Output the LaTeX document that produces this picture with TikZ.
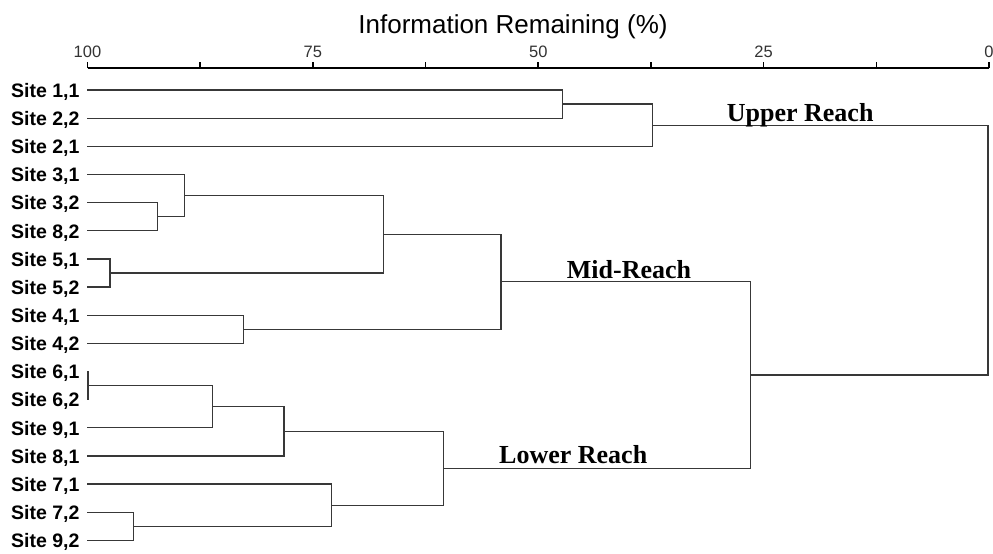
\documentclass[tikz,border=0pt]{standalone}
\usepackage{fontspec}
\setmainfont{Liberation Serif}
\newfontfamily\arial{Liberation Sans}
\begin{document}
\begin{tikzpicture}[x=1pt,y=-1pt,
  tree/.style={draw=black!78,line width=1.3pt,line join=miter,line cap=rect},
  axisline/.style={draw=black,line width=2pt},
  sitelabel/.style={anchor=base west,inner sep=0pt,font=\arial\bfseries\fontsize{19.5}{20}\selectfont},
  ticklabel/.style={anchor=base,inner sep=0pt,text=black!80,font=\arial\fontsize{16.5}{17}\selectfont},
  reachlabel/.style={anchor=base west,inner sep=0pt,font=\bfseries\fontsize{26}{26}\selectfont},
  titlelabel/.style={anchor=base,inner sep=0pt,font=\arial\fontsize{26}{26}\selectfont}]
\useasboundingbox (0,0) rectangle (993,554);

% axis
\node[titlelabel] (title) at (513,33) {Information Remaining (\%)};
\coordinate (ax0) at (87.5,68.3);
\coordinate (ax1) at (989,68.3);
\draw[axisline] (ax0) -- (ax1);
\foreach \i in {0,...,8}{
  \draw[line width=1.6pt] ({87.5+\i*112.69},68.3) -- ++(0,-6.5);
}
\foreach \v/\i in {100/0,75/2,50/4,25/6,0/8}{
  \node[ticklabel] (t\i) at ({87.5+\i*112.69},57) {\v};
}

% leaves
\foreach \n/\lab in {0/{1,1},1/{2,2},2/{2,1},3/{3,1},4/{3,2},5/{8,2},6/{5,1},7/{5,2},8/{4,1},
                     9/{4,2},10/{6,1},11/{6,2},12/{9,1},13/{8,1},14/{7,1},15/{7,2},16/{9,2}}{
  \coordinate (L\n) at (87.5,{90+28.15*\n});
  \node[sitelabel] (s\n) at (11,{97.3+28.15*\n}) {Site \lab};
}

% merge points
\coordinate (mA) at (562.3,104.1);   % 1,1 + 2,2
\coordinate (mB) at (652.3,125.2);   % + 2,1
\coordinate (mC) at (157.5,216.7);   % 3,2 + 8,2
\coordinate (mD) at (184.3,195.6);   % 3,1 + mC
\coordinate (mE) at (110,273.0);     % 5,1 + 5,2
\coordinate (mF) at (383.3,234.3);   % mD + mE
\coordinate (mG) at (243.3,329.3);   % 4,1 + 4,2
\coordinate (mMid) at (501,281.8);   % mF + mG
\coordinate (mH) at (88,385.6);      % 6,1 + 6,2
\coordinate (mI) at (212.3,406.7);   % mH + 9,1
\coordinate (mJ) at (284,431.3);     % mI + 8,1
\coordinate (mK) at (133.3,526.3);   % 7,2 + 9,2
\coordinate (mL) at (331.7,505.2);   % 7,1 + mK
\coordinate (mLow) at (443.3,468.3); % mJ + mL
\coordinate (mML) at (750.7,375.0);  % mMid + mLow
\coordinate (mRoot) at (988,250.1);  % mB + mML

\draw[tree] (L0) -| (mA) |- (L1);
\draw[tree] (mA) -| (mB) |- (L2);
\draw[tree] (L4) -| (mC) |- (L5);
\draw[tree] (L3) -| (mD) |- (mC);
\draw[tree] (L6) -| (mE) |- (L7);
\draw[tree] (mD) -| (mF) |- (mE);
\draw[tree] (L8) -| (mG) |- (L9);
\draw[tree] (mF) -| (mMid) |- (mG);
\draw[tree] (L10) -| (mH) |- (L11);
\draw[tree] (mH) -| (mI) |- (L12);
\draw[tree] (mI) -| (mJ) |- (L13);
\draw[tree] (L15) -| (mK) |- (L16);
\draw[tree] (L14) -| (mL) |- (mK);
\draw[tree] (mJ) -| (mLow) |- (mL);
\draw[tree] (mMid) -| (mML) |- (mLow);
\draw[tree] (mB) -| (mRoot) |- (mML);

% group labels
\node[reachlabel] (upper) at (726.7,121.7) {Upper Reach};
\node[reachlabel] (mid) at (566.7,278) {Mid-Reach};
\node[reachlabel] (lower) at (499,463.3) {Lower Reach};
\end{tikzpicture}
\end{document}
